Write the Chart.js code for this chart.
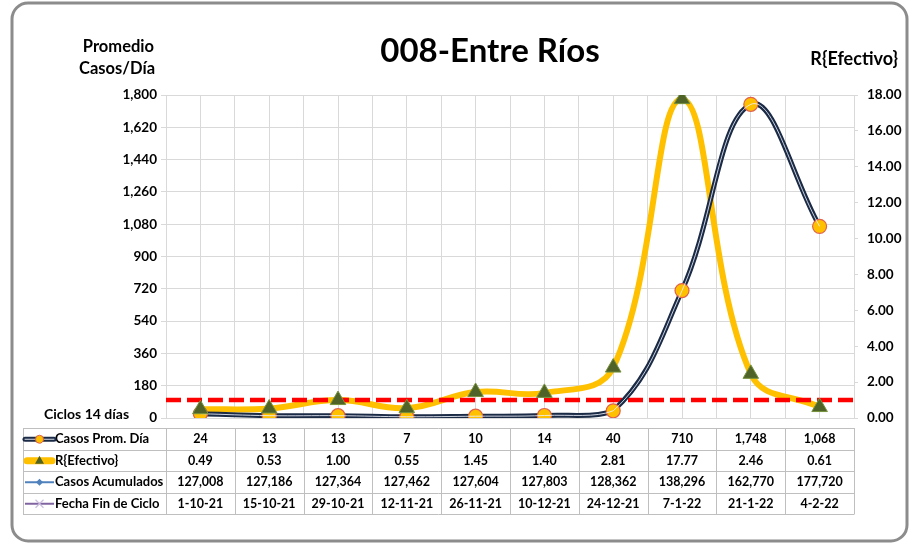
<!DOCTYPE html>
<html>
<head>
<meta charset="utf-8">
<script src="https://cdn.jsdelivr.net/npm/chart.js@4.4.1/dist/chart.umd.min.js"></script>
<style>
  html, body { margin: 0; padding: 0; background: #fff; }
  #wrap { width: 914px; height: 545px; position: relative; }
</style>
</head>
<body>
<div id="wrap"><canvas id="chart" width="914" height="545"></canvas></div>
<script>
// data
const cycleEnds = ["1-10-21", "15-10-21", "29-10-21", "12-11-21", "26-11-21", "10-12-21", "24-12-21", "7-1-22", "21-1-22", "4-2-22"];
const avgCases = [24, 13, 13, 7, 10, 14, 40, 710, 1748, 1068];
const rEffective = [0.49, 0.53, 1.0, 0.55, 1.45, 1.4, 2.81, 17.77, 2.46, 0.61];
const cumulativeCases = [127008, 127186, 127364, 127462, 127604, 127803, 128362, 138296, 162770, 177720];
const casesAxis = { min: 0, max: 1800, step: 180 };
const rAxis = { min: 0, max: 18, step: 2 };
const rThreshold = 1;

const FONT = "Lato, 'Liberation Sans', sans-serif";
const NAVY = "#1b2a45";
const GOLD = "#FFC000";
const OLIVE = "#4F6228";
const GRID = "#D9D9D9";

const fmt = (v) => v.toLocaleString("en-US");

// frame, titles and the red reference line
const decorPlugin = {
  id: "decor",
  beforeDraw(chart) {
    const c = chart.ctx;
    c.save();
    c.fillStyle = "#fff";
    c.fillRect(0, 0, chart.width, chart.height);
    c.strokeStyle = "#8C8C8C";
    c.lineWidth = 3;
    c.beginPath();
    c.roundRect(12, 3, 895, 538, 16);
    c.stroke();

    c.fillStyle = "#000";
    c.textBaseline = "middle";
    c.textAlign = "center";
    c.font = "bold 33px " + FONT;
    c.fillText("008-Entre Ríos", 490, 51);
    c.font = "bold 16.5px " + FONT;
    c.textAlign = "right";
    c.fillText("Promedio", 154, 47);
    c.fillText("Casos/Día", 155, 69);
    c.font = "bold 18px " + FONT;
    c.fillText("R{Efectivo}", 898, 59);
    c.textAlign = "left";
    c.font = "bold 14px " + FONT;
    c.fillText("Ciclos 14 días", 44, 414);
    c.restore();
  },
  afterDatasetDraw(chart, args) {
    // dashed R=1 line sits above the gold curve but under the markers
    if (chart.data.datasets[args.index].id !== "rLine") return;
    const c = chart.ctx;
    const area = chart.chartArea;
    const y = chart.scales.y1.getPixelForValue(rThreshold);
    c.save();
    c.strokeStyle = "#FF0000";
    c.lineWidth = 4.5;
    c.setLineDash([15, 6]);
    c.beginPath();
    c.moveTo(area.left, y);
    c.lineTo(area.right, y);
    c.stroke();
    c.restore();
  },
};

// data table under the plot
const tablePlugin = {
  id: "dataTable",
  afterDraw(chart) {
    const c = chart.ctx;
    const area = chart.chartArea;
    const xs = chart.scales.x;
    const n = cycleEnds.length;
    const colW = (area.right - area.left) / n;
    const top = 428;
    const rowH = 21.5;
    const left = 23;
    const rows = [
      avgCases.map(fmt),
      rEffective.map((v) => v.toFixed(2)),
      cumulativeCases.map(fmt),
      cycleEnds,
    ];
    const labels = ["Casos Prom. Día", "R{Efectivo}", "Casos Acumulados", "Fecha Fin de Ciclo"];

    c.save();
    c.strokeStyle = "#BFBFBF";
    c.lineWidth = 1;
    c.beginPath();
    for (let r = 0; r <= rows.length; r++) {
      const y = Math.round(top + r * rowH) + 0.5;
      c.moveTo(left, y);
      c.lineTo(area.right, y);
    }
    const bottom = Math.round(top + rows.length * rowH) + 0.5;
    c.moveTo(left + 0.5, top);
    c.lineTo(left + 0.5, bottom);
    for (let i = 0; i <= n; i++) {
      const x = Math.round(area.left + i * colW) + 0.5;
      c.moveTo(x, top);
      c.lineTo(x, bottom);
    }
    c.stroke();

    c.fillStyle = "#000";
    c.textBaseline = "middle";
    rows.forEach((vals, r) => {
      const y = top + r * rowH + rowH / 2 + 0.5;
      c.font = "bold 12.5px " + FONT;
      c.textAlign = "center";
      vals.forEach((v, i) => c.fillText(v, xs.getPixelForValue(i), y));
      c.font = "bold 13px " + FONT;
      c.textAlign = "left";
      c.fillText(labels[r], 55, y);
    });

    // legend keys
    const kx0 = 25, kx1 = 54, km = 39.5;
    let y = top + rowH / 2 + 0.5;
    c.lineCap = "round";
    c.strokeStyle = NAVY; c.lineWidth = 5;
    c.beginPath(); c.moveTo(kx0, y); c.lineTo(kx1, y); c.stroke();
    c.strokeStyle = "rgba(235,240,250,0.9)"; c.lineWidth = 1;
    c.beginPath(); c.moveTo(kx0, y); c.lineTo(kx1, y); c.stroke();
    c.fillStyle = GOLD; c.strokeStyle = "#E0604A";
    c.beginPath(); c.arc(km, y, 4, 0, Math.PI * 2); c.fill(); c.stroke();

    y += rowH;
    c.strokeStyle = GOLD; c.lineWidth = 7;
    c.beginPath(); c.moveTo(kx0 + 2, y); c.lineTo(kx1 - 2, y); c.stroke();
    c.fillStyle = OLIVE;
    c.beginPath(); c.moveTo(km, y - 5); c.lineTo(km + 4.5, y + 3); c.lineTo(km - 4.5, y + 3); c.closePath(); c.fill();

    y += rowH;
    c.lineCap = "butt";
    c.strokeStyle = "#4F81BD"; c.lineWidth = 2;
    c.beginPath(); c.moveTo(kx0, y); c.lineTo(kx1, y); c.stroke();
    c.fillStyle = "#4F81BD";
    c.beginPath(); c.moveTo(km, y - 3.5); c.lineTo(km + 3.5, y); c.lineTo(km, y + 3.5); c.lineTo(km - 3.5, y); c.closePath(); c.fill();

    y += rowH;
    c.strokeStyle = "#8064A2"; c.lineWidth = 2;
    c.beginPath(); c.moveTo(kx0, y); c.lineTo(kx1, y); c.stroke();
    c.strokeStyle = "#C9BCDC"; c.lineWidth = 1.2;
    c.beginPath();
    c.moveTo(km - 4, y - 4); c.lineTo(km + 4, y + 4);
    c.moveTo(km + 4, y - 4); c.lineTo(km - 4, y + 4);
    c.stroke();
    c.restore();
  },
};

new Chart(document.getElementById("chart"), {
  type: "line",
  data: {
    labels: cycleEnds,
    datasets: [
      {
        id: "rPoints",
        label: "R{Efectivo}",
        data: rEffective,
        yAxisID: "y1",
        showLine: false,
        pointStyle: "triangle",
        pointRadius: 9,
        pointBackgroundColor: OLIVE,
        pointBorderColor: "#76923C",
        pointBorderWidth: 1,
        order: 1,
      },
      {
        id: "casesInner",
        label: "",
        data: avgCases,
        yAxisID: "y",
        borderColor: "rgba(235,240,250,0.85)",
        borderWidth: 1,
        pointRadius: 0,
        tension: 0.4,
        order: 2,
      },
      {
        id: "cases",
        label: "Casos Prom. Día",
        data: avgCases,
        yAxisID: "y",
        borderColor: NAVY,
        borderWidth: 5,
        pointRadius: 7,
        pointBackgroundColor: GOLD,
        pointBorderColor: "#E0604A",
        pointBorderWidth: 1.2,
        tension: 0.4,
        order: 3,
      },
      {
        id: "rLine",
        label: "R{Efectivo}",
        data: rEffective,
        yAxisID: "y1",
        borderColor: GOLD,
        borderWidth: 6,
        pointRadius: 0,
        tension: 0.4,
        order: 4,
      },
    ],
  },
  options: {
    responsive: false,
    animation: false,
    layout: { padding: { top: 95, bottom: 127, left: 0, right: 0 } },
    plugins: { legend: { display: false }, tooltip: { enabled: false } },
    scales: {
      x: {
        type: "category",
        offset: true,
        grid: { offset: false, color: GRID, drawTicks: false },
        border: { display: false },
        ticks: { display: false },
        afterFit: (s) => { s.height = 0; },
      },
      xb: {
        type: "category",
        position: "bottom",
        labels: cycleEnds,
        offset: true,
        grid: { offset: true, color: GRID, drawTicks: false },
        border: { display: false },
        ticks: { display: false },
        afterFit: (s) => { s.height = 0; },
      },
      y: {
        position: "left",
        min: casesAxis.min,
        max: casesAxis.max,
        ticks: {
          stepSize: casesAxis.step,
          color: "#000",
          padding: 4,
          font: { family: FONT, size: 13.5, weight: "bold" },
          callback: (v) => fmt(v),
        },
        grid: { color: GRID, tickLength: 5 },
        border: { display: false },
        afterFit: (s) => { s.width = 166; },
      },
      y1: {
        position: "right",
        min: rAxis.min,
        max: rAxis.max,
        ticks: {
          stepSize: rAxis.step,
          color: "#000",
          padding: 9,
          font: { family: FONT, size: 13.5, weight: "bold" },
          callback: (v) => v.toFixed(2),
        },
        grid: { drawOnChartArea: false, color: GRID, tickLength: 4 },
        border: { display: false },
        afterFit: (s) => { s.width = 60; },
      },
    },
  },
  plugins: [decorPlugin, tablePlugin],
});
</script>
</body>
</html>
